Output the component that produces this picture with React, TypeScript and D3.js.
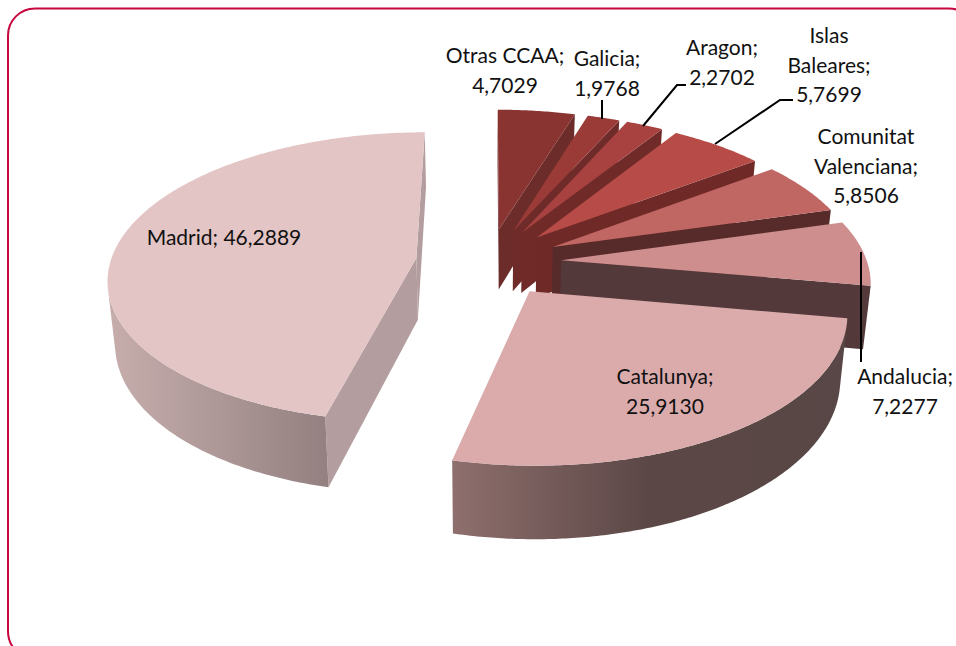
import React from "react";
import * as d3 from "d3";

const categories = ["Otras CCAA", "Galicia", "Aragon", "Islas Baleares", "Comunitat Valenciana", "Andalucia", "Catalunya", "Madrid"];
const values = [4.7029, 1.9768, 2.2702, 5.7699, 5.8506, 7.2277, 25.913, 46.2889];
const topColors = ["#8A3431", "#9B3B38", "#A84240", "#B64B47", "#C06663", "#CE8E8E", "#DBABAC", "#E3C5C6"];
const wallColors = ["#6C2C2A", "#6E2B29", "#702B29", "#6F2A28", "#562B2A", "#54393A", "#54393A", "#B39D9E"];
const arcLeft = ["#6C2C2A", "#6E2B29", "#702B29", "#6F2A28", "#562B2A", "#54393A", "#8E6F6D", "#C7AEAD"];
const arcMid = ["#6C2C2A", "#6E2B29", "#702B29", "#6F2A28", "#562B2A", "#54393A", "#5B4746", "#AD9797"];
const arcRight = ["#6C2C2A", "#6E2B29", "#702B29", "#6F2A28", "#562B2A", "#54393A", "#584746", "#948080"];

const labelLines = [
  ["Otras CCAA;", "4,7029"],
  ["Galicia;", "1,9768"],
  ["Aragon;", "2,2702"],
  ["Islas", "Baleares;", "5,7699"],
  ["Comunitat", "Valenciana;", "5,8506"],
  ["Andalucia;", "7,2277"],
  ["Catalunya;", "25,9130"],
  ["Madrid; 46,2889"],
];
const labelX = [505, 607, 722, 829, 866, 905, 665, 224];
const labelY = [63, 66, 55, 43, 144, 384, 384, 245];
const labelStep = 29.5;
const leaders = [
  [[602, 100], [602, 119]],
  [[643, 126], [677, 85], [686, 85]],
  [[715, 144], [780, 100], [793, 100]],
  [[861, 252], [861, 362]],
];

const W = 956, H = 646;
const cx = 488.5, cy = 262, Rx = 306, Ry = 143.2, persp = 0.131, depth = 62, lean = 0.02, explode = 0.238;

type P = [number, number];
const project = (u: number, v: number, z: number): P => {
  const s = 1 / (1 + persp * v);
  return [cx + Rx * u * s * (1 - lean * z), cy - Ry * v * s + depth * z * s];
};
const line = d3.line<P>();
const isFront = (pts: P[]) => d3.polygonArea(pts) > 0;

const arcs = d3.pie<number>().sort(null).startAngle(0).endAngle(2 * Math.PI)(values);

export default function App() {
  const slices = arcs.map((a, i) => {
    const mid = (a.startAngle + a.endAngle) / 2;
    const ou = explode * Math.sin(mid), ov = explode * Math.cos(mid);
    const n = Math.max(4, Math.ceil((a.endAngle - a.startAngle) / 0.01));
    const thetas = d3.range(n + 1).map((k) => a.startAngle + ((a.endAngle - a.startAngle) * k) / n);
    const at = (t: number, z: number) => project(ou + Math.sin(t), ov + Math.cos(t), z);
    const apex0 = project(ou, ov, 0), apex1 = project(ou, ov, 1);
    const top: P[] = [apex0, ...thetas.map((t) => at(t, 0))];
    const walls: { d: string; fill: string }[] = [];
    const radial = (a0: P, a1: P, b0: P, b1: P) => {
      const q: P[] = [a0, b0, b1, a1];
      if (isFront(q)) walls.push({ d: line(q) + "Z", fill: wallColors[i] });
    };
    radial(apex0, apex1, at(thetas[0], 0), at(thetas[0], 1));
    radial(at(thetas[n], 0), at(thetas[n], 1), apex0, apex1);
    const facing = d3.range(n).filter((k) =>
      isFront([at(thetas[k], 0), at(thetas[k + 1], 0), at(thetas[k + 1], 1), at(thetas[k], 1)])
    );
    let outer: string | null = null;
    if (facing.length) {
      const f = thetas.slice(facing[0], facing[facing.length - 1] + 2);
      outer = line([...f.map((t) => at(t, 0)), ...f.slice().reverse().map((t) => at(t, 1))]) + "Z";
    }
    return { i, top: line(top) + "Z", walls, outer };
  });

  return (
    <svg width={W} height={H} viewBox={`0 0 ${W} ${H}`} style={{ position: "absolute", left: 0, top: 0, display: "block" }}>
      <defs>
        {categories.map((_, i) => (
          <linearGradient key={i} id={`g${i}`} x1="0" x2="1" y1="0" y2="0">
            <stop offset="0" stopColor={arcLeft[i]} />
            <stop offset="0.5" stopColor={arcMid[i]} />
            <stop offset="1" stopColor={arcRight[i]} />
          </linearGradient>
        ))}
      </defs>
      <rect width={W} height={H} fill="#fff" />
      <rect x={8} y={8.5} width={968} height={650} rx={27} ry={27} fill="#fff" stroke="#C8063F" strokeWidth={2} />
      {slices.map((s) => (
        <g key={s.i}>
          {s.walls.map((w, k) => (
            <path key={k} d={w.d} fill={w.fill} />
          ))}
          {s.outer && <path d={s.outer} fill={`url(#g${s.i})`} />}
          <path d={s.top} fill={topColors[s.i]} />
        </g>
      ))}
      {leaders.map((l, i) => (
        <path key={i} d={line(l as P[]) as string} fill="none" stroke="#000" strokeWidth={2} />
      ))}
      <g fontFamily="Lato, sans-serif" fontSize={21} fill="#111" textAnchor="middle">
        {labelLines.map((lines, i) => (
          <text key={i} x={labelX[i]} y={labelY[i]}>
            {lines.map((t, k) => (
              <tspan key={k} x={labelX[i]} dy={k === 0 ? 0 : labelStep}>
                {t}
              </tspan>
            ))}
          </text>
        ))}
      </g>
    </svg>
  );
}
